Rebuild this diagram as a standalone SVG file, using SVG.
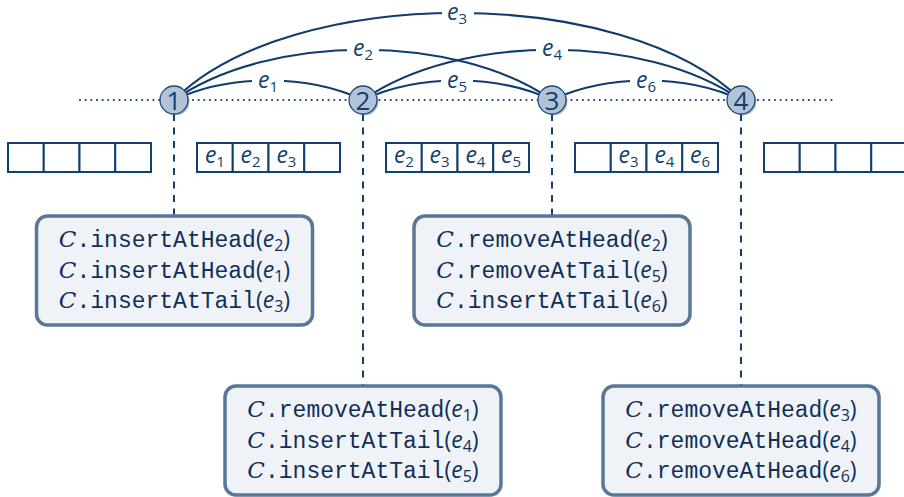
<svg xmlns="http://www.w3.org/2000/svg" width="904" height="497" viewBox="0 0 904 497">
<defs>
<style>
.edge{fill:none;stroke:#0f3c6d;stroke-width:2.1}
.dots{stroke:#123f70;stroke-width:2.2;stroke-linecap:round;stroke-dasharray:0 5.65}
.dash{stroke:#123f70;stroke-width:2;stroke-dasharray:7 6.5}
.nd{fill:#b3c3d7;stroke:#1d4c7c;stroke-width:1.3}
.sh{fill:#6f8197;opacity:0.55}
.num{font-family:"Open Sans","Liberation Sans",sans-serif;font-size:26px;fill:#123f70;text-anchor:middle}
.lbg{fill:#ffffff}
.lab{font-family:"Open Sans","Liberation Sans",sans-serif;fill:#123f70;text-anchor:middle}
.it{font-style:italic;font-size:23px}
.sub{font-size:15px}
.cell{fill:#ffffff;stroke:#123f70;stroke-width:2}
.ctx{font-family:"Open Sans","Liberation Sans",sans-serif;fill:#123f70;text-anchor:middle}
.box{fill:#eff3f7;stroke:#5a7799;stroke-width:3.5}
.op{font-size:23px;fill:#112f57;text-anchor:middle;font-family:"Open Sans","Liberation Sans",sans-serif}
.cal{font-family:"DejaVu Serif","Liberation Serif",serif;font-style:italic}
.tt{font-family:"Liberation Mono",monospace}
.oi{font-style:italic}
.os{font-size:16px}
</style>
</defs>
<g id="baseline">
<line class="dots" x1="80" y1="100" x2="834" y2="100"/>
</g>
<g id="connectors">
<path id="e3" class="edge" d="M174,100 C290,-16 625,-16 741,100"/>
<path id="e2" class="edge" d="M174,100 C270,33 456,33 552,100"/>
<path id="e4" class="edge" d="M363,100 C459,33 645,33 741,100"/>
<path id="e1" class="edge" d="M174,100 C229,74 308,74 363,100"/>
<path id="e5" class="edge" d="M363,100 C418,74 497,74 552,100"/>
<path id="e6" class="edge" d="M552,100 C607,74 686,74 741,100"/>
<line class="dash" x1="174" y1="114" x2="174" y2="216"/>
<line class="dash" x1="363" y1="114" x2="363" y2="386"/>
<line class="dash" x1="552" y1="114" x2="552" y2="216"/>
<line class="dash" x1="741" y1="114" x2="741" y2="386"/>
</g>
<g id="edge-labels">
<rect class="lbg" x="442" y="3" width="32" height="22"/>
<text class="lab" x="457" y="20"><tspan class="it">e</tspan><tspan class="sub" dy="4">3</tspan></text>
<rect class="lbg" x="347" y="39" width="32" height="22"/>
<text class="lab" x="363" y="56"><tspan class="it">e</tspan><tspan class="sub" dy="4">2</tspan></text>
<rect class="lbg" x="536" y="39" width="32" height="22"/>
<text class="lab" x="552" y="56"><tspan class="it">e</tspan><tspan class="sub" dy="4">4</tspan></text>
<rect class="lbg" x="252" y="71" width="32" height="22"/>
<text class="lab" x="268" y="88"><tspan class="it">e</tspan><tspan class="sub" dy="4">1</tspan></text>
<rect class="lbg" x="441" y="71" width="32" height="22"/>
<text class="lab" x="457" y="88"><tspan class="it">e</tspan><tspan class="sub" dy="4">5</tspan></text>
<rect class="lbg" x="630" y="71" width="32" height="22"/>
<text class="lab" x="646" y="88"><tspan class="it">e</tspan><tspan class="sub" dy="4">6</tspan></text>
</g>
<g id="node1">
<circle class="sh" cx="175.5" cy="101.5" r="14"/>
<circle class="nd" cx="174" cy="100" r="14"/>
<text class="num" x="174" y="109.5">1</text>
</g>
<g id="node2">
<circle class="sh" cx="364.5" cy="101.5" r="14"/>
<circle class="nd" cx="363" cy="100" r="14"/>
<text class="num" x="363" y="109.5">2</text>
</g>
<g id="node3">
<circle class="sh" cx="553.5" cy="101.5" r="14"/>
<circle class="nd" cx="552" cy="100" r="14"/>
<text class="num" x="552" y="109.5">3</text>
</g>
<g id="node4">
<circle class="sh" cx="742.5" cy="101.5" r="14"/>
<circle class="nd" cx="741" cy="100" r="14"/>
<text class="num" x="741" y="109.5">4</text>
</g>
<g id="list0">
<rect class="cell" x="8" y="143" width="35.75" height="29"/>
<rect class="cell" x="43.75" y="143" width="35.75" height="29"/>
<rect class="cell" x="79.5" y="143" width="35.75" height="29"/>
<rect class="cell" x="115.25" y="143" width="35.75" height="29"/>
</g>
<g id="list1">
<rect class="cell" x="197" y="143" width="35.75" height="29"/>
<rect class="cell" x="232.75" y="143" width="35.75" height="29"/>
<rect class="cell" x="268.5" y="143" width="35.75" height="29"/>
<rect class="cell" x="304.25" y="143" width="35.75" height="29"/>
<text class="ctx" x="214.9" y="163"><tspan class="it">e</tspan><tspan class="sub" dy="4">1</tspan></text>
<text class="ctx" x="250.6" y="163"><tspan class="it">e</tspan><tspan class="sub" dy="4">2</tspan></text>
<text class="ctx" x="286.4" y="163"><tspan class="it">e</tspan><tspan class="sub" dy="4">3</tspan></text>
</g>
<g id="list2">
<rect class="cell" x="386" y="143" width="35.75" height="29"/>
<rect class="cell" x="421.75" y="143" width="35.75" height="29"/>
<rect class="cell" x="457.5" y="143" width="35.75" height="29"/>
<rect class="cell" x="493.25" y="143" width="35.75" height="29"/>
<text class="ctx" x="403.9" y="163"><tspan class="it">e</tspan><tspan class="sub" dy="4">2</tspan></text>
<text class="ctx" x="439.6" y="163"><tspan class="it">e</tspan><tspan class="sub" dy="4">3</tspan></text>
<text class="ctx" x="475.4" y="163"><tspan class="it">e</tspan><tspan class="sub" dy="4">4</tspan></text>
<text class="ctx" x="511.1" y="163"><tspan class="it">e</tspan><tspan class="sub" dy="4">5</tspan></text>
</g>
<g id="list3">
<rect class="cell" x="575" y="143" width="35.75" height="29"/>
<rect class="cell" x="610.75" y="143" width="35.75" height="29"/>
<rect class="cell" x="646.5" y="143" width="35.75" height="29"/>
<rect class="cell" x="682.25" y="143" width="35.75" height="29"/>
<text class="ctx" x="628.6" y="163"><tspan class="it">e</tspan><tspan class="sub" dy="4">3</tspan></text>
<text class="ctx" x="664.4" y="163"><tspan class="it">e</tspan><tspan class="sub" dy="4">4</tspan></text>
<text class="ctx" x="700.1" y="163"><tspan class="it">e</tspan><tspan class="sub" dy="4">6</tspan></text>
</g>
<g id="list4">
<rect class="cell" x="764" y="143" width="35.75" height="29"/>
<rect class="cell" x="799.75" y="143" width="35.75" height="29"/>
<rect class="cell" x="835.5" y="143" width="35.75" height="29"/>
<rect class="cell" x="871.25" y="143" width="35.75" height="29"/>
</g>
<g id="ops1">
<rect class="box" x="36.5" y="216" width="276" height="109" rx="11"/>
<text class="op" x="174.5" y="247"><tspan class="cal">C</tspan><tspan class="tt">.insertAtHead</tspan>(<tspan class="oi">e</tspan><tspan class="os" dy="4">2</tspan><tspan dy="-4">)</tspan></text>
<text class="op" x="174.5" y="278"><tspan class="cal">C</tspan><tspan class="tt">.insertAtHead</tspan>(<tspan class="oi">e</tspan><tspan class="os" dy="4">1</tspan><tspan dy="-4">)</tspan></text>
<text class="op" x="174.5" y="308"><tspan class="cal">C</tspan><tspan class="tt">.insertAtTail</tspan>(<tspan class="oi">e</tspan><tspan class="os" dy="4">3</tspan><tspan dy="-4">)</tspan></text>
</g>
<g id="ops3">
<rect class="box" x="414" y="216" width="276" height="109" rx="11"/>
<text class="op" x="552" y="247"><tspan class="cal">C</tspan><tspan class="tt">.removeAtHead</tspan>(<tspan class="oi">e</tspan><tspan class="os" dy="4">2</tspan><tspan dy="-4">)</tspan></text>
<text class="op" x="552" y="278"><tspan class="cal">C</tspan><tspan class="tt">.removeAtTail</tspan>(<tspan class="oi">e</tspan><tspan class="os" dy="4">5</tspan><tspan dy="-4">)</tspan></text>
<text class="op" x="552" y="308"><tspan class="cal">C</tspan><tspan class="tt">.insertAtTail</tspan>(<tspan class="oi">e</tspan><tspan class="os" dy="4">6</tspan><tspan dy="-4">)</tspan></text>
</g>
<g id="ops2">
<rect class="box" x="225" y="386" width="276" height="109" rx="11"/>
<text class="op" x="363" y="417"><tspan class="cal">C</tspan><tspan class="tt">.removeAtHead</tspan>(<tspan class="oi">e</tspan><tspan class="os" dy="4">1</tspan><tspan dy="-4">)</tspan></text>
<text class="op" x="363" y="448"><tspan class="cal">C</tspan><tspan class="tt">.insertAtTail</tspan>(<tspan class="oi">e</tspan><tspan class="os" dy="4">4</tspan><tspan dy="-4">)</tspan></text>
<text class="op" x="363" y="478"><tspan class="cal">C</tspan><tspan class="tt">.insertAtTail</tspan>(<tspan class="oi">e</tspan><tspan class="os" dy="4">5</tspan><tspan dy="-4">)</tspan></text>
</g>
<g id="ops4">
<rect class="box" x="603" y="386" width="276" height="109" rx="11"/>
<text class="op" x="741" y="417"><tspan class="cal">C</tspan><tspan class="tt">.removeAtHead</tspan>(<tspan class="oi">e</tspan><tspan class="os" dy="4">3</tspan><tspan dy="-4">)</tspan></text>
<text class="op" x="741" y="448"><tspan class="cal">C</tspan><tspan class="tt">.removeAtHead</tspan>(<tspan class="oi">e</tspan><tspan class="os" dy="4">4</tspan><tspan dy="-4">)</tspan></text>
<text class="op" x="741" y="478"><tspan class="cal">C</tspan><tspan class="tt">.removeAtHead</tspan>(<tspan class="oi">e</tspan><tspan class="os" dy="4">6</tspan><tspan dy="-4">)</tspan></text>
</g>
</svg>
